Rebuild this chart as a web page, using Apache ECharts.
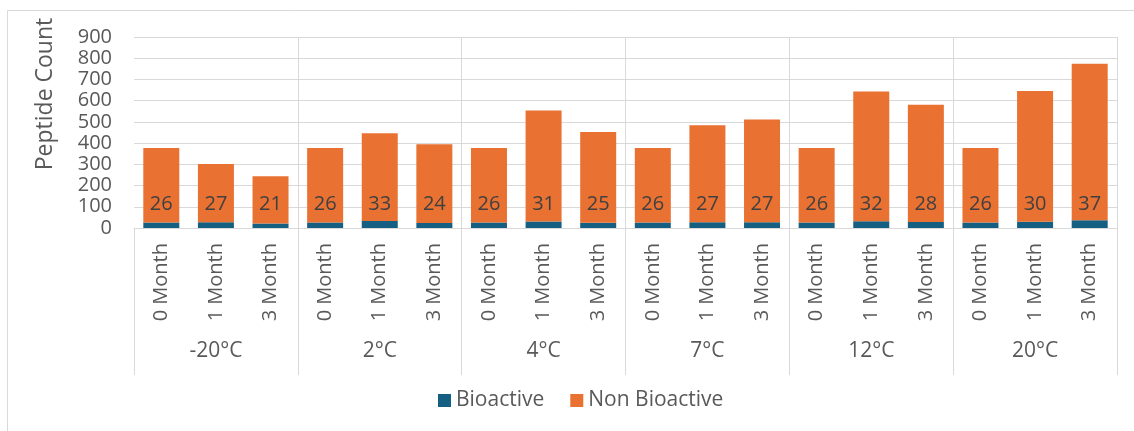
<!DOCTYPE html>
<html>
<head>
<meta charset="utf-8">
<style>
  html, body { margin: 0; padding: 0; background: #fff; }
  #chart { width: 1134px; height: 431px; }
</style>
<script src="https://cdn.jsdelivr.net/npm/echarts@6/dist/echarts.min.js"></script>
</head>
<body>
<div id="chart"></div>
<script>
// Storage conditions (outer axis level) and time points (inner axis level)
const temperatures = ['-20°C', '2°C', '4°C', '7°C', '12°C', '20°C'];
const months = ['0 Month', '1 Month', '3 Month'];

// Peptide counts per temperature × time point, in category order
const bioactive = [26, 27, 21, 26, 33, 24, 26, 31, 25, 26, 27, 27, 26, 32, 28, 26, 30, 37];
const nonBioactive = [351, 274, 223, 351, 414, 371, 351, 523, 427, 351, 457, 484, 351, 611, 553, 351, 616, 737];

const yTicks = { min: 0, max: 900, interval: 100 };

const categories = [];
temperatures.forEach(function () { months.forEach(function (m) { categories.push(m); }); });

const FONT = '"Open Sans", "Liberation Sans", Arial, sans-serif';
const GRID_COLOR = '#d9d9d9';
const TEXT_COLOR = '#595959';

const chart = echarts.init(document.getElementById('chart'));

chart.setOption({
  animation: false,
  textStyle: { fontFamily: FONT },
  grid: { left: 134, right: 17, top: 37, bottom: 203 },
  legend: {
    bottom: 15,
    left: 433,
    icon: 'rect',
    itemWidth: 13,
    itemHeight: 13,
    itemGap: 26,
    textStyle: { fontSize: 21, color: TEXT_COLOR, fontFamily: FONT },
    data: ['Bioactive', 'Non Bioactive']
  },
  xAxis: [
    {
      type: 'category',
      data: categories,
      axisLine: { show: true, lineStyle: { color: GRID_COLOR, width: 1 } },
      axisTick: { show: false },
      axisLabel: {
        rotate: 90,
        margin: 15,
        fontSize: 20,
        color: TEXT_COLOR,
        fontFamily: FONT
      },
      splitLine: { show: false }
    },
    {
      type: 'category',
      data: temperatures,
      position: 'bottom',
      axisLine: { show: false },
      axisTick: { show: true, length: 147, lineStyle: { color: GRID_COLOR, width: 1 } },
      axisLabel: { margin: 113, fontSize: 21, color: TEXT_COLOR, fontFamily: FONT },
      splitLine: {
        show: true,
        lineStyle: { color: GRID_COLOR, width: 1 },
        interval: function (index) { return index > 0 && index < temperatures.length; }
      }
    }
  ],
  yAxis: {
    type: 'value',
    min: yTicks.min,
    max: yTicks.max,
    interval: yTicks.interval,
    axisLine: { show: false },
    axisTick: { show: false },
    axisLabel: { margin: 22, fontSize: 20, color: TEXT_COLOR, fontFamily: FONT },
    splitLine: { lineStyle: { color: GRID_COLOR, width: 1 } }
  },
  graphic: [
    {
      type: 'text',
      x: 45,
      y: 94,
      rotation: Math.PI / 2,
      style: {
        text: 'Peptide Count',
        fontSize: 23,
        fontFamily: FONT,
        fill: TEXT_COLOR,
        textAlign: 'center',
        textVerticalAlign: 'middle'
      }
    },
    {
      type: 'polyline',
      silent: true,
      shape: { points: [[7.5, 431], [7.5, 10.5], [1134, 10.5]] },
      style: { stroke: GRID_COLOR, fill: null, lineWidth: 1 }
    }
  ],
  series: [
    {
      name: 'Bioactive',
      type: 'bar',
      stack: 'total',
      xAxisIndex: 0,
      data: bioactive,
      barWidth: 36,
      itemStyle: { color: '#156082' },
      label: {
        show: true,
        position: 'insideBottom',
        distance: 5,
        offset: [0, -9],
        fontSize: 20,
        color: '#404040',
        fontFamily: FONT
      }
    },
    {
      name: 'Non Bioactive',
      type: 'bar',
      stack: 'total',
      xAxisIndex: 0,
      data: nonBioactive,
      barWidth: 36,
      itemStyle: { color: '#e97132' }
    }
  ]
});
</script>
</body>
</html>
